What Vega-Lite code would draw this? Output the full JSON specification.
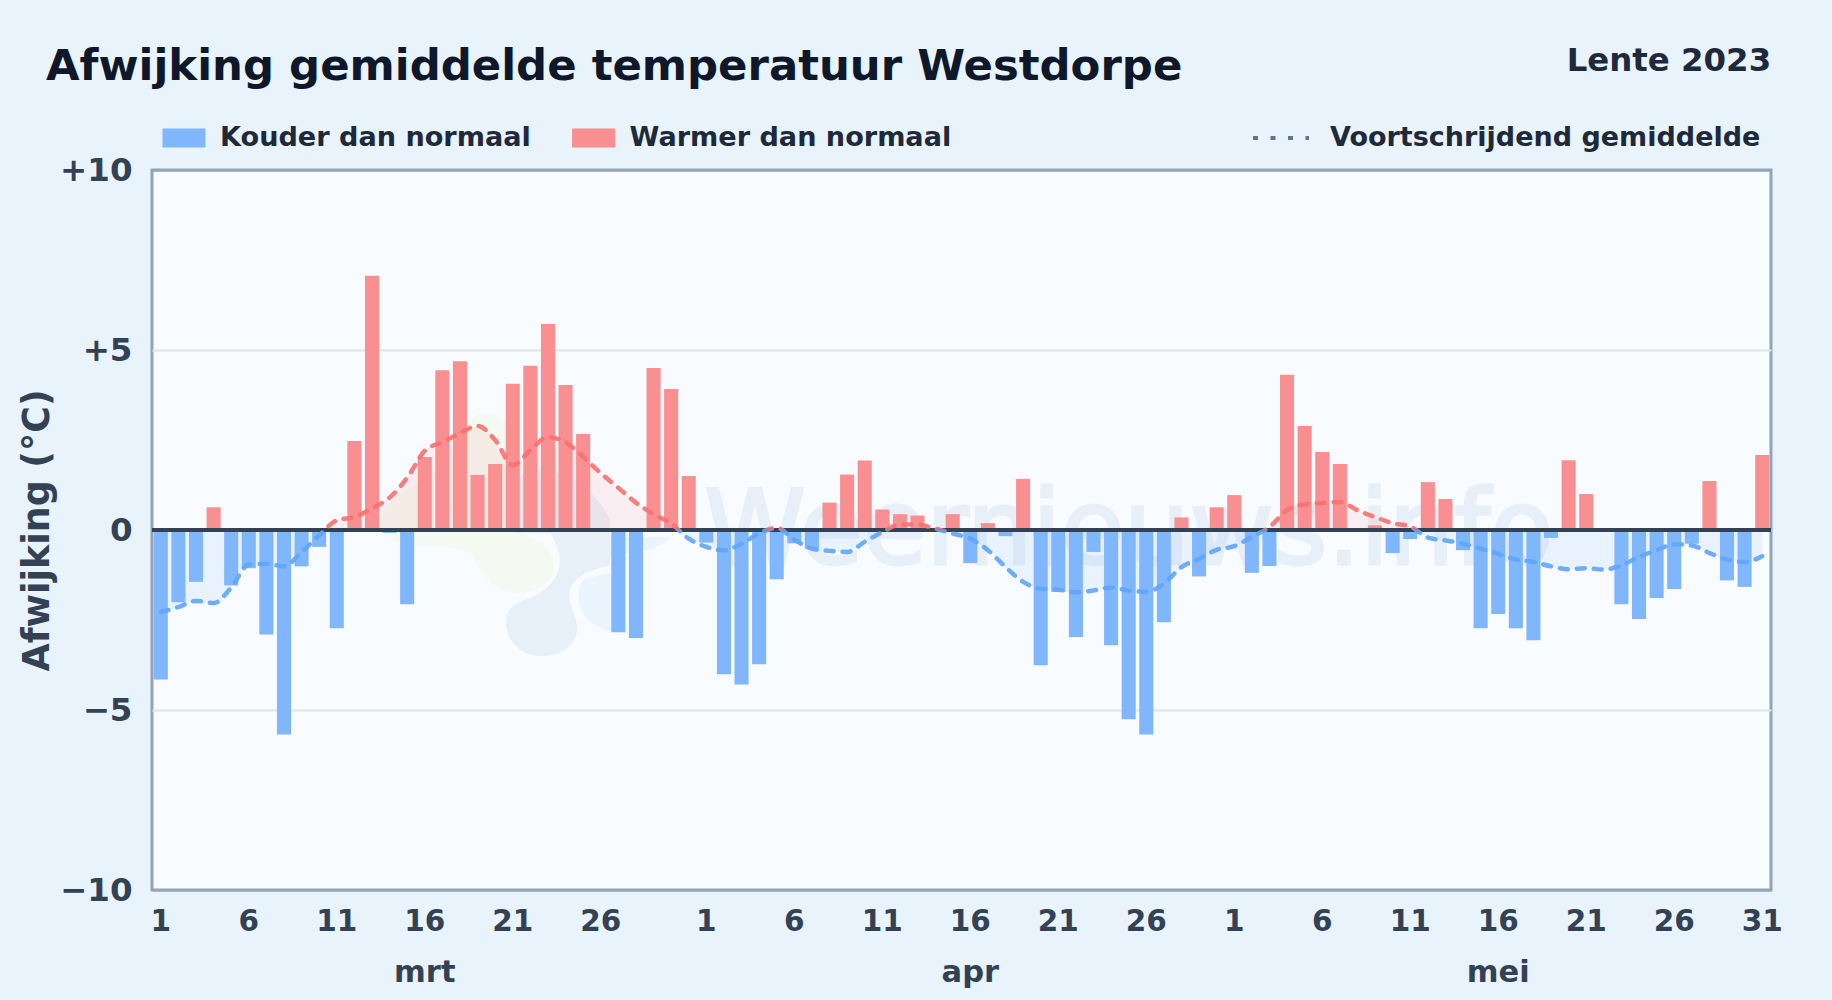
{
"$schema":"https://vega.github.io/schema/vega-lite/v6.json",
"autosize":{"type":"none"},
"width":1619,"height":720,
"padding":{"left":152,"top":170,"right":61,"bottom":110},
"background":"#e9f3fc",
"config":{"view":{"fill":"#f8fbff","stroke":"#94a3b8","strokeWidth":3},"font":"DejaVu Sans"},
"title":{"text":"Afwijking gemiddelde temperatuur Westdorpe","anchor":"start","frame":"group","dx":-106,"offset":-44,"fontSize":43.4,"fontWeight":"bold","color":"#0f172a","font":"DejaVu Sans"},
"datasets":{
"dagen":[
{"dag":"2023-03-01","afw":-4.15,"ma":-2.28,"soort":"Kouder dan normaal"},{"dag":"2023-03-02","afw":-2.01,"ma":-2.14,"soort":"Kouder dan normaal"},{"dag":"2023-03-03","afw":-1.44,"ma":-1.97,"soort":"Kouder dan normaal"},{"dag":"2023-03-04","afw":0.63,"ma":-2.03,"soort":"Warmer dan normaal"},{"dag":"2023-03-05","afw":-1.54,"ma":-1.6,"soort":"Kouder dan normaal"},{"dag":"2023-03-06","afw":-1.06,"ma":-0.96,"soort":"Kouder dan normaal"},{"dag":"2023-03-07","afw":-2.9,"ma":-0.94,"soort":"Kouder dan normaal"},{"dag":"2023-03-08","afw":-5.68,"ma":-1.01,"soort":"Kouder dan normaal"},{"dag":"2023-03-09","afw":-1.01,"ma":-0.61,"soort":"Kouder dan normaal"},{"dag":"2023-03-10","afw":-0.47,"ma":-0.15,"soort":"Kouder dan normaal"},
{"dag":"2023-03-11","afw":-2.73,"ma":0.27,"soort":"Kouder dan normaal"},{"dag":"2023-03-12","afw":2.47,"ma":0.36,"soort":"Warmer dan normaal"},{"dag":"2023-03-13","afw":7.06,"ma":0.6,"soort":"Warmer dan normaal"},{"dag":"2023-03-14","afw":-0.08,"ma":0.9,"soort":"Kouder dan normaal"},{"dag":"2023-03-15","afw":-2.06,"ma":1.45,"soort":"Kouder dan normaal"},{"dag":"2023-03-16","afw":2.03,"ma":2.2,"soort":"Warmer dan normaal"},{"dag":"2023-03-17","afw":4.44,"ma":2.44,"soort":"Warmer dan normaal"},{"dag":"2023-03-18","afw":4.69,"ma":2.69,"soort":"Warmer dan normaal"},{"dag":"2023-03-19","afw":1.53,"ma":2.89,"soort":"Warmer dan normaal"},{"dag":"2023-03-20","afw":1.83,"ma":2.5,"soort":"Warmer dan normaal"},
{"dag":"2023-03-21","afw":4.06,"ma":1.8,"soort":"Warmer dan normaal"},{"dag":"2023-03-22","afw":4.56,"ma":2.22,"soort":"Warmer dan normaal"},{"dag":"2023-03-23","afw":5.72,"ma":2.58,"soort":"Warmer dan normaal"},{"dag":"2023-03-24","afw":4.03,"ma":2.44,"soort":"Warmer dan normaal"},{"dag":"2023-03-25","afw":2.67,"ma":2.03,"soort":"Warmer dan normaal"},{"dag":"2023-03-26","afw":0,"ma":1.58,"soort":"Warmer dan normaal"},{"dag":"2023-03-27","afw":-2.84,"ma":1.17,"soort":"Kouder dan normaal"},{"dag":"2023-03-28","afw":-3.0,"ma":0.76,"soort":"Kouder dan normaal"},{"dag":"2023-03-29","afw":4.5,"ma":0.44,"soort":"Warmer dan normaal"},{"dag":"2023-03-30","afw":3.92,"ma":0.18,"soort":"Warmer dan normaal"},{"dag":"2023-03-31","afw":1.5,"ma":-0.24,"soort":"Warmer dan normaal"},
{"dag":"2023-04-01","afw":-0.35,"ma":-0.47,"soort":"Kouder dan normaal"},{"dag":"2023-04-02","afw":-4.01,"ma":-0.56,"soort":"Kouder dan normaal"},{"dag":"2023-04-03","afw":-4.29,"ma":-0.38,"soort":"Kouder dan normaal"},{"dag":"2023-04-04","afw":-3.73,"ma":-0.1,"soort":"Kouder dan normaal"},{"dag":"2023-04-05","afw":-1.37,"ma":0.06,"soort":"Kouder dan normaal"},{"dag":"2023-04-06","afw":-0.37,"ma":-0.27,"soort":"Kouder dan normaal"},{"dag":"2023-04-07","afw":-0.52,"ma":-0.52,"soort":"Kouder dan normaal"},{"dag":"2023-04-08","afw":0.76,"ma":-0.58,"soort":"Warmer dan normaal"},{"dag":"2023-04-09","afw":1.54,"ma":-0.61,"soort":"Warmer dan normaal"},{"dag":"2023-04-10","afw":1.93,"ma":-0.33,"soort":"Warmer dan normaal"},
{"dag":"2023-04-11","afw":0.57,"ma":-0.06,"soort":"Warmer dan normaal"},{"dag":"2023-04-12","afw":0.44,"ma":0.15,"soort":"Warmer dan normaal"},{"dag":"2023-04-13","afw":0.4,"ma":0.15,"soort":"Warmer dan normaal"},{"dag":"2023-04-14","afw":0,"ma":0.04,"soort":"Warmer dan normaal"},{"dag":"2023-04-15","afw":0.44,"ma":-0.1,"soort":"Warmer dan normaal"},{"dag":"2023-04-16","afw":-0.92,"ma":-0.24,"soort":"Kouder dan normaal"},{"dag":"2023-04-17","afw":0.19,"ma":-0.56,"soort":"Warmer dan normaal"},{"dag":"2023-04-18","afw":-0.17,"ma":-1.03,"soort":"Kouder dan normaal"},{"dag":"2023-04-19","afw":1.42,"ma":-1.44,"soort":"Warmer dan normaal"},{"dag":"2023-04-20","afw":-3.76,"ma":-1.63,"soort":"Kouder dan normaal"},
{"dag":"2023-04-21","afw":-1.72,"ma":-1.66,"soort":"Kouder dan normaal"},{"dag":"2023-04-22","afw":-2.97,"ma":-1.73,"soort":"Kouder dan normaal"},{"dag":"2023-04-23","afw":-0.61,"ma":-1.68,"soort":"Kouder dan normaal"},{"dag":"2023-04-24","afw":-3.2,"ma":-1.6,"soort":"Kouder dan normaal"},{"dag":"2023-04-25","afw":-5.26,"ma":-1.68,"soort":"Kouder dan normaal"},{"dag":"2023-04-26","afw":-5.68,"ma":-1.72,"soort":"Kouder dan normaal"},{"dag":"2023-04-27","afw":-2.56,"ma":-1.49,"soort":"Kouder dan normaal"},{"dag":"2023-04-28","afw":0.35,"ma":-1.03,"soort":"Warmer dan normaal"},{"dag":"2023-04-29","afw":-1.29,"ma":-0.8,"soort":"Kouder dan normaal"},{"dag":"2023-04-30","afw":0.63,"ma":-0.55,"soort":"Warmer dan normaal"},
{"dag":"2023-05-01","afw":0.97,"ma":-0.45,"soort":"Warmer dan normaal"},{"dag":"2023-05-02","afw":-1.19,"ma":-0.19,"soort":"Kouder dan normaal"},{"dag":"2023-05-03","afw":-1.0,"ma":0.08,"soort":"Kouder dan normaal"},{"dag":"2023-05-04","afw":4.31,"ma":0.55,"soort":"Warmer dan normaal"},{"dag":"2023-05-05","afw":2.89,"ma":0.71,"soort":"Warmer dan normaal"},{"dag":"2023-05-06","afw":2.17,"ma":0.75,"soort":"Warmer dan normaal"},{"dag":"2023-05-07","afw":1.83,"ma":0.78,"soort":"Warmer dan normaal"},{"dag":"2023-05-08","afw":0,"ma":0.55,"soort":"Warmer dan normaal"},{"dag":"2023-05-09","afw":0.13,"ma":0.36,"soort":"Warmer dan normaal"},{"dag":"2023-05-10","afw":-0.64,"ma":0.19,"soort":"Kouder dan normaal"},
{"dag":"2023-05-11","afw":-0.25,"ma":0.1,"soort":"Kouder dan normaal"},{"dag":"2023-05-12","afw":1.33,"ma":-0.21,"soort":"Warmer dan normaal"},{"dag":"2023-05-13","afw":0.86,"ma":-0.29,"soort":"Warmer dan normaal"},{"dag":"2023-05-14","afw":-0.56,"ma":-0.38,"soort":"Kouder dan normaal"},{"dag":"2023-05-15","afw":-2.73,"ma":-0.52,"soort":"Kouder dan normaal"},{"dag":"2023-05-16","afw":-2.33,"ma":-0.66,"soort":"Kouder dan normaal"},{"dag":"2023-05-17","afw":-2.73,"ma":-0.82,"soort":"Kouder dan normaal"},{"dag":"2023-05-18","afw":-3.06,"ma":-0.89,"soort":"Kouder dan normaal"},{"dag":"2023-05-19","afw":-0.22,"ma":-1.01,"soort":"Kouder dan normaal"},{"dag":"2023-05-20","afw":1.94,"ma":-1.09,"soort":"Warmer dan normaal"},
{"dag":"2023-05-21","afw":1.0,"ma":-1.06,"soort":"Warmer dan normaal"},{"dag":"2023-05-22","afw":0,"ma":-1.1,"soort":"Warmer dan normaal"},{"dag":"2023-05-23","afw":-2.06,"ma":-0.98,"soort":"Kouder dan normaal"},{"dag":"2023-05-24","afw":-2.47,"ma":-0.75,"soort":"Kouder dan normaal"},{"dag":"2023-05-25","afw":-1.89,"ma":-0.56,"soort":"Kouder dan normaal"},{"dag":"2023-05-26","afw":-1.64,"ma":-0.4,"soort":"Kouder dan normaal"},{"dag":"2023-05-27","afw":-0.38,"ma":-0.43,"soort":"Kouder dan normaal"},{"dag":"2023-05-28","afw":1.36,"ma":-0.64,"soort":"Warmer dan normaal"},{"dag":"2023-05-29","afw":-1.4,"ma":-0.82,"soort":"Kouder dan normaal"},{"dag":"2023-05-30","afw":-1.58,"ma":-0.89,"soort":"Kouder dan normaal"},{"dag":"2023-05-31","afw":2.08,"ma":-0.73,"soort":"Warmer dan normaal"}
],
"maanden":[{"dag":"2023-03-16","maand":"mrt","y":-10},{"dag":"2023-04-16","maand":"apr","y":-10},{"dag":"2023-05-16","maand":"mei","y":-10}],
"nul":[{"y":0}],
"seizoen":[{"dag":"2023-05-31","tekst":"Lente 2023","y":10}],
"merk":[{"dag":"2023-04-25","tekst":"Weernieuws.info","y":0}],
"logo":[{"dag":"2023-03-22","y":-0.74}]
},
"layer":[
{"data":{"name":"logo"},"mark":{"type":"point","filled":true,"opacity":1,"size":4444,"color":"#f4f9f1","shape":"M-1.31,-4.3C-0.61,-4.3 -0.61,-3.7 -0.71,-3L-0.51,-0.8C0.39,-0.5 0.79,-0.1 0.69,0.4C0.59,0.9 -0.01,1.12 -0.51,1.08C-1.11,1 -1.41,0.6 -1.61,0.2C-1.81,-0.2 -2.21,-0.4 -3.41,-0.28C-4.01,-0.3 -4.41,-0.6 -4.51,-1C-4.41,-2 -2.81,-2.3 -2.41,-3C-2.11,-3.8 -1.81,-4.3 -1.31,-4.3Z"},
 "encoding":{"x":{"field":"dag","type":"nominal","sort":null,"scale":{"paddingInner":0.2,"paddingOuter":0.1,"domain":["2023-03-01","2023-03-02","2023-03-03","2023-03-04","2023-03-05","2023-03-06","2023-03-07","2023-03-08","2023-03-09","2023-03-10","2023-03-11","2023-03-12","2023-03-13","2023-03-14","2023-03-15","2023-03-16","2023-03-17","2023-03-18","2023-03-19","2023-03-20","2023-03-21","2023-03-22","2023-03-23","2023-03-24","2023-03-25","2023-03-26","2023-03-27","2023-03-28","2023-03-29","2023-03-30","2023-03-31","2023-04-01","2023-04-02","2023-04-03","2023-04-04","2023-04-05","2023-04-06","2023-04-07","2023-04-08","2023-04-09","2023-04-10","2023-04-11","2023-04-12","2023-04-13","2023-04-14","2023-04-15","2023-04-16","2023-04-17","2023-04-18","2023-04-19","2023-04-20","2023-04-21","2023-04-22","2023-04-23","2023-04-24","2023-04-25","2023-04-26","2023-04-27","2023-04-28","2023-04-29","2023-04-30","2023-05-01","2023-05-02","2023-05-03","2023-05-04","2023-05-05","2023-05-06","2023-05-07","2023-05-08","2023-05-09","2023-05-10","2023-05-11","2023-05-12","2023-05-13","2023-05-14","2023-05-15","2023-05-16","2023-05-17","2023-05-18","2023-05-19","2023-05-20","2023-05-21","2023-05-22","2023-05-23","2023-05-24","2023-05-25","2023-05-26","2023-05-27","2023-05-28","2023-05-29","2023-05-30","2023-05-31"]},
 "axis":{"title":null,"domain":false,"ticks":false,"labelAngle":0,"labelPadding":17,"labelFontSize":29.5,"labelFontWeight":"bold","labelColor":"#334155","labelOverlap":false,"labelFlush":false,"grid":false,
"values":["2023-03-01","2023-03-06","2023-03-11","2023-03-16","2023-03-21","2023-03-26","2023-04-01","2023-04-06","2023-04-11","2023-04-16","2023-04-21","2023-04-26","2023-05-01","2023-05-06","2023-05-11","2023-05-16","2023-05-21","2023-05-26","2023-05-31"],
"labelExpr":"toNumber(substring(datum.value,8))"}},
 "y":{"field":"y","type":"quantitative","scale":{"domain":[-10,10]},"axis":{"title":"Afwijking (°C)","titleFontSize":36.4,"titleFontWeight":"bold","titleColor":"#334155","titlePadding":3,"domain":false,"ticks":false,"grid":true,"gridColor":{"condition":{"test":"abs(datum.value)==10","value":"#94a3b8"},"value":"#dde5ec"},"gridWidth":2,"values":[-10,-5,0,5,10],"labelFontSize":32.5,"labelFontWeight":"bold","labelColor":"#334155","labelPadding":20,"labelExpr":"datum.value>0?'+'+datum.value:datum.value<0?'−'+abs(datum.value):'0'"}}}},
{"data":{"name":"logo"},"mark":{"type":"point","filled":true,"opacity":1,"size":4444,"color":"#e7f0f8","shape":"M0.59,-0.7C1.09,0 0.99,0.8 -0.01,1.25C-0.61,1.4 -0.76,1.7 -0.73,2.05C-0.66,2.7 -0.11,2.98 0.34,2.98C1.09,2.98 1.41,2.5 1.41,2.1C1.41,1.8 1.14,1.5 1.17,1.1C1.19,0.7 1.69,0.4 2.39,0.25L2.39,-1.1C2.19,-1.6 1.39,-2.6 0.19,-2.6C-0.41,-2.6 -0.61,-2 -0.51,-0.7Z"},
 "encoding":{"x":{"field":"dag","type":"nominal","sort":null},"y":{"field":"y","type":"quantitative"}}},
{"data":{"name":"logo"},"mark":{"type":"point","filled":true,"opacity":1,"size":4444,"color":"#e9f4fc","shape":"M1.59,0.7C1.99,0.55 2.39,0.5 2.44,0.5L2.44,2.25C1.99,2.15 1.59,1.9 1.47,1.4C1.41,1 1.49,0.85 1.59,0.7ZM2.39,-0.6L4.19,-0.6C3.99,-0.3 3.49,-0.2 3.39,-0.2L2.39,0Z"},
 "encoding":{"x":{"field":"dag","type":"nominal","sort":null},"y":{"field":"y","type":"quantitative"}}},
{"data":{"name":"merk"},"mark":{"type":"text","fontSize":103,"dy":34,"baseline":"alphabetic","fontWeight":"normal","color":"#1e5aa8","stroke":"#1e5aa8","strokeWidth":3,"opacity":0.07,"font":"DejaVu Sans"},"encoding":{"x":{"field":"dag","type":"nominal","sort":null},"y":{"field":"y","type":"quantitative"},"text":{"field":"tekst"}}},
{"data":{"name":"dagen"},"mark":{"type":"area","interpolate":"monotone","fill":{"x1":0,"y1":0,"x2":0,"y2":1,"gradient":"linear","stops":[{"offset":0,"color":"#f87171"},{"offset":0.559,"color":"#f87171"},{"offset":0.559,"color":"#60a5fa"},{"offset":1,"color":"#60a5fa"}]},"opacity":0.1},
 "encoding":{"x":{"field":"dag","type":"nominal","sort":null},"y":{"field":"ma","type":"quantitative"},"y2":{"datum":0}}},
{"data":{"name":"dagen"},"mark":{"type":"bar"},"encoding":{"x":{"field":"dag","type":"nominal","sort":null},"y":{"field":"afw","type":"quantitative"},"color":{"field":"soort","type":"nominal","scale":{"domain":["Kouder dan normaal","Warmer dan normaal"],"range":["#80b6fc","#f98f90"]},
 "legend":{"title":null,"orient":"none","legendX":13,"legendY":-51.5,"direction":"horizontal","columnPadding":40.5,"symbolType":"M-1.13,-0.5H1.13V0.5H-1.13Z","symbolSize":1444,"symbolStrokeWidth":0,"symbolOpacity":1,"labelFontSize":27.1,"labelFontWeight":"bold","labelColor":"#1e293b","labelFont":"DejaVu Sans","labelOffset":17,"labelLimit":400}}}},
{"data":{"name":"nul"},"mark":{"type":"rule","color":"#334155","strokeWidth":4},"encoding":{"y":{"field":"y","type":"quantitative"}}},
{"data":{"name":"nul"},"mark":{"type":"rule","opacity":0},"encoding":{"y":{"field":"y","type":"quantitative"},
 "strokeDash":{"datum":"Voortschrijdend gemiddelde","type":"nominal","scale":{"range":[[5,12.5]]},"legend":{"title":null,"orient":"none","legendX":1099,"legendY":-62,"symbolType":"stroke","symbolStrokeColor":"#64748b","symbolStrokeWidth":4,"symbolOpacity":1,"symbolSize":3136,"labelFontSize":27,"labelFontWeight":"bold","labelColor":"#1e293b","labelFont":"DejaVu Sans","labelOffset":19,"labelLimit":500}}}},
{"data":{"name":"dagen"},"mark":{"type":"line","interpolate":"monotone","strokeWidth":4.5,"strokeCap":"round","strokeOpacity":0.9,"strokeDash":[8,9],"stroke":{"x1":0,"y1":0,"x2":0,"y2":1,"gradient":"linear","stops":[{"offset":0,"color":"#f87171"},{"offset":0.559,"color":"#f87171"},{"offset":0.559,"color":"#60a5fa"},{"offset":1,"color":"#60a5fa"}]}},"encoding":{"x":{"field":"dag","type":"nominal","sort":null},"y":{"field":"ma","type":"quantitative"}}},
{"data":{"name":"maanden"},"mark":{"type":"text","dy":83,"fontSize":30.5,"fontWeight":"bold","color":"#334155","font":"DejaVu Sans"},"encoding":{"x":{"field":"dag","type":"nominal","sort":null},"y":{"field":"y","type":"quantitative"},"text":{"field":"maand"}}},
{"data":{"name":"seizoen"},"mark":{"type":"text","align":"right","dx":9,"dy":-109,"fontSize":32.4,"fontWeight":"bold","color":"#1e293b","font":"DejaVu Sans"},"encoding":{"x":{"field":"dag","type":"nominal","sort":null},"y":{"field":"y","type":"quantitative"},"text":{"field":"tekst"}}}
]
}
